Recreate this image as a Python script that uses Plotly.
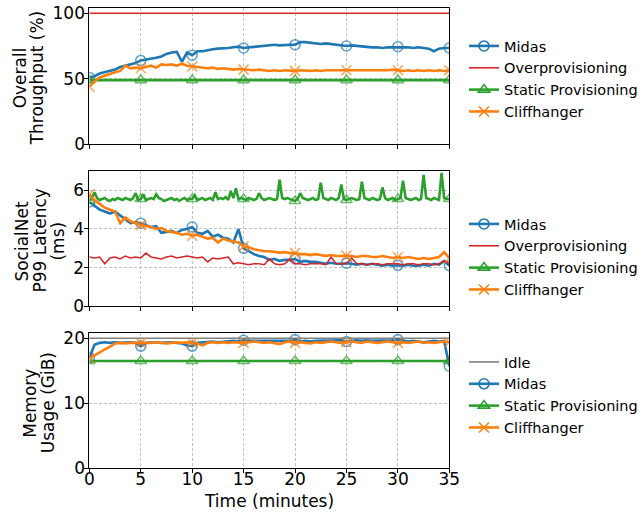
import numpy as np
import plotly.graph_objects as go

# ---------------- data ----------------
time_min = np.arange(0, 35.01, 0.5)    # minutes, 71 samples
time_fine = np.arange(0, 35.01, 0.25)  # minutes, 141 samples (spiky series)

# Panel 1: Overall throughput (%)
thr_midas = [51, 52, 54, 55, 56, 57, 59, 60, 61, 62,
             64, 64.5, 65.5, 66, 67, 69, 70, 70.5, 63, 70,
             68, 71, 71, 72, 72.5, 73, 73, 73.5, 74, 74.5,
             73.5, 74, 74.5, 75, 75, 75.5, 76, 75.5, 76, 76,
             76, 78, 78, 77.5, 77, 76.5, 77, 76.5, 76, 75.5,
             75, 75.5, 75, 74.5, 74.5, 74, 74, 73.5, 74, 74,
             74.5, 74, 74, 73.5, 74, 73.5, 73, 71, 73, 73.5,
             73.5]
thr_overprov = [100] * 71
thr_static = [49] * 71
thr_cliff = [44, 48, 51, 52.5, 54, 55, 56, 60, 58, 58.5,
             58, 59, 60, 58.5, 61, 60.5, 61, 60, 61.5, 60,
             59.5, 59, 58.5, 58, 58.5, 57.5, 58, 57.5, 57, 57.5,
             57, 57, 56.5, 57, 56.5, 56, 56.5, 56, 56.5, 56,
             56, 56.5, 56, 56, 56.5, 56, 56.5, 56.5, 56, 56.5,
             56.5, 56, 56.5, 56, 56, 56.5, 56, 56.5, 56.5, 57,
             56.5, 56, 56.5, 56, 56.5, 56, 56.5, 56, 56.5, 56,
             56.5]

# Panel 2: SocialNet P99 latency (ms)
lat_midas = [5.4, 5.2, 5.0, 4.9, 4.8, 4.9, 4.7, 4.5, 4.3, 4.35,
             4.3, 4.2, 4.1, 4.15, 3.8, 3.85, 3.9, 3.8, 3.95, 4.0,
             4.1, 3.8, 3.75, 3.9, 3.6, 3.7, 3.55, 3.5, 3.3, 4.0,
             3.0, 2.85, 2.7, 2.6, 2.55, 2.4, 2.45, 2.35, 2.4, 2.4,
             2.45, 2.3, 2.35, 2.3, 2.3, 2.25, 2.2, 2.25, 2.2, 2.2,
             2.23, 2.2, 2.15, 2.2, 2.15, 2.2, 2.15, 2.1, 2.15, 2.1,
             2.12, 2.1, 2.15, 2.1, 2.1, 2.15, 2.1, 2.2, 2.15, 2.35,
             2.1]
lat_overprov = [2.55, 2.5, 2.55, 2.2, 2.5, 2.55, 2.45, 2.6, 2.5, 2.55,
                2.5, 2.75, 2.55, 2.5, 2.45, 2.55, 2.6, 2.5, 2.55, 2.6,
                2.55, 2.5, 2.55, 2.3, 2.5, 2.45, 2.5, 2.55, 2.2, 2.25,
                2.2, 2.15, 2.2, 2.2, 2.15, 2.45, 2.2, 2.15, 2.2, 2.45,
                2.2, 2.2, 2.15, 2.2, 2.2, 2.2, 2.15, 2.55, 2.2, 2.2,
                2.2, 2.5, 2.2, 2.2, 2.15, 2.2, 2.2, 2.15, 2.2, 2.2,
                2.2, 2.15, 2.2, 2.2, 2.15, 2.2, 2.2, 2.15, 2.2, 2.35,
                2.2]
lat_static = [5.45, 5.6, 5.9, 5.6, 5.5, 5.55, 5.6, 5.5, 5.45, 5.55, 5.5, 5.6, 5.55, 5.5, 5.6, 5.55, 5.5, 5.6, 5.85, 5.5,
              5.55, 5.8, 5.5, 5.55, 5.6, 5.55, 5.8, 5.6, 5.55, 5.45, 5.5, 5.55, 5.6, 5.5, 5.55, 5.45, 5.55, 5.6, 5.5, 5.55,
              5.55, 5.75, 5.5, 5.55, 5.6, 5.5, 5.55, 5.6, 5.5, 5.9, 5.55, 5.6, 5.55, 5.65, 5.5, 5.95, 5.6, 6.1, 5.55, 5.6,
              5.55, 5.5, 5.6, 5.55, 5.5, 5.55, 5.85, 5.6, 5.5, 5.55, 5.6, 5.55, 5.5, 5.55, 6.55, 5.6, 5.55, 5.6, 5.55, 5.5,
              5.45, 5.55, 5.85, 5.6, 5.55, 5.5, 5.55, 5.6, 5.5, 5.55, 6.4, 5.6, 5.55, 5.5, 5.6, 5.55, 5.5, 5.6, 6.3, 5.55,
              5.5, 5.55, 5.6, 5.55, 5.5, 5.55, 6.45, 5.6, 5.55, 5.5, 5.6, 5.55, 5.5, 5.55, 6.15, 5.6, 5.5, 5.55, 5.6, 5.5,
              5.55, 5.6, 6.5, 5.6, 5.55, 5.5, 5.55, 5.6, 5.5, 5.55, 6.8, 5.6, 5.55, 5.5, 5.6, 5.55, 5.5, 6.9, 5.6, 5.55,
              5.55]
lat_cliff = [5.8, 5.5, 5.3, 5.1, 5.0, 4.9, 4.3, 4.6, 4.4, 4.3,
             4.2, 4.15, 4.1, 4.0, 4.05, 3.9, 3.85, 3.8, 3.7, 3.75,
             3.65, 3.7, 3.6, 3.5, 3.55, 3.3, 3.5, 3.4, 3.35, 3.3,
             3.1, 3.05, 2.95, 2.9, 2.85, 2.85, 2.8, 2.78, 2.8, 2.75,
             2.75, 2.7, 2.7, 2.65, 2.7, 2.65, 2.6, 2.65, 2.6, 2.6,
             2.62, 2.6, 2.55, 2.6, 2.6, 2.55, 2.55, 2.6, 2.55, 2.5,
             2.55, 2.5, 2.55, 2.5, 2.45, 2.5, 2.45, 2.5, 2.55, 2.8,
             2.5]

# Panel 3: Memory usage (GiB)
mem_idle = [20] * 71
mem_midas = [17.0, 19.0, 19.3, 19.4, 19.3, 19.4, 19.3, 19.4, 19.4, 19.3,
             18.8, 19.3, 19.4, 19.4, 19.3, 19.4, 19.4, 19.3, 19.2, 18.9,
             18.8, 19.3, 19.4, 19.5, 19.5, 19.4, 19.5, 19.5, 19.6, 19.5,
             19.7, 19.6, 19.6, 19.7, 19.6, 19.7, 19.6, 19.6, 19.7, 19.6,
             19.8, 19.5, 19.6, 19.5, 19.6, 19.6, 19.7, 19.6, 19.6, 19.7,
             19.5, 19.6, 19.7, 19.6, 19.7, 19.6, 19.6, 19.7, 19.6, 19.7,
             19.8, 19.6, 19.5, 19.6, 19.5, 19.4, 19.5, 19.6, 19.5, 19.6,
             15.7]
mem_static = [16.5] * 71
mem_cliff = [16.9, 17.4, 17.9, 18.3, 18.7, 19.2, 19.3, 19.2, 19.3, 19.3,
             19.3, 19.2, 19.3, 19.4, 19.3, 19.2, 19.3, 19.4, 19.3, 19.4,
             19.3, 19.2, 18.9, 19.3, 19.4, 19.3, 19.4, 19.3, 19.4, 19.3,
             19.3, 19.4, 19.5, 19.4, 19.3, 19.4, 19.2, 19.1, 19.4, 19.5,
             19.3, 19.4, 19.3, 19.2, 19.4, 19.3, 19.4, 19.5, 19.4, 19.3,
             19.4, 19.5, 19.4, 19.3, 19.5, 19.4, 19.3, 19.4, 19.5, 19.4,
             19.3, 19.4, 19.3, 19.4, 19.5, 19.3, 19.4, 19.3, 19.4, 19.5,
             19.4]

x_ticks = [0, 5, 10, 15, 20, 25, 30, 35]

# ---------------- style ----------------
BLUE, ORANGE, GREEN, RED, GRAY = "#1f77b4", "#ff7f0e", "#2ca02c", "#d62728", "#808080"
FONT = "DejaVu Sans"
W, H = 643, 514
MSIZE = 10


def msizes(xs, size):
    return [size if abs(t / 5 - round(t / 5)) < 1e-9 else 0 for t in xs]


def add_series(fig, y, name, color, symbol, width, xa, ya, legend, xs=time_min):
    line = dict(color=color, width=width)
    if symbol is None:
        fig.add_trace(go.Scatter(x=xs, y=y, name=name, mode="lines", line=line,
                                 xaxis=xa, yaxis=ya, legend=legend))
        return
    marker = dict(symbol=symbol, size=msizes(xs, MSIZE), color=color, line=dict(color=color, width=1.6))
    fig.add_trace(go.Scatter(x=xs, y=y, name=name, mode="lines+markers", line=line,
                             marker=marker, xaxis=xa, yaxis=ya, legend=legend, showlegend=False,
                             legendgroup=legend + name))
    # legend key only (no data points)
    fig.add_trace(go.Scatter(x=[None], y=[None], name=name, mode="lines+markers", line=line,
                             marker=dict(symbol=symbol, size=MSIZE, color=color,
                                         line=dict(color=color, width=1.6)),
                             xaxis=xa, yaxis=ya, legend=legend, legendgroup=legend + name))


fig = go.Figure()
add_series(fig, thr_midas, "Midas", BLUE, "circle-open", 2.6, "x", "y", "legend")
add_series(fig, thr_overprov, "Overprovisioning", RED, None, 1.6, "x", "y", "legend")
add_series(fig, thr_static, "Static Provisioning", GREEN, "triangle-up-open", 2.6, "x", "y", "legend")
add_series(fig, thr_cliff, "Cliffhanger", ORANGE, "x-thin-open", 2.6, "x", "y", "legend")

add_series(fig, lat_midas, "Midas", BLUE, "circle-open", 2.6, "x2", "y2", "legend2")
add_series(fig, lat_overprov, "Overprovisioning", RED, None, 1.6, "x2", "y2", "legend2")
add_series(fig, lat_static, "Static Provisioning", GREEN, "triangle-up-open", 2.6, "x2", "y2", "legend2",
           xs=time_fine)
add_series(fig, lat_cliff, "Cliffhanger", ORANGE, "x-thin-open", 2.6, "x2", "y2", "legend2")

add_series(fig, mem_idle, "Idle", GRAY, None, 1.6, "x3", "y3", "legend3")
add_series(fig, mem_midas, "Midas", BLUE, "circle-open", 2.6, "x3", "y3", "legend3")
add_series(fig, mem_static, "Static Provisioning", GREEN, "triangle-up-open", 2.6, "x3", "y3", "legend3")
add_series(fig, mem_cliff, "Cliffhanger", ORANGE, "x-thin-open", 2.6, "x3", "y3", "legend3")

x0, x1 = 89.5 / W, 450 / W


def ydom(top, bot):
    return [1 - bot / H, 1 - top / H]


FS = 17
axis_common = dict(showline=True, linecolor="black", linewidth=1, mirror=True,
                   ticks="outside", ticklen=4, tickwidth=1, tickcolor="black",
                   showgrid=True, gridcolor="#c0c0c0", griddash="3px,2px", gridwidth=0.8,
                   zeroline=False, automargin=False,
                   tickfont=dict(family=FONT, size=FS, color="black"))

xcommon = dict(axis_common, range=[0, 35], tickvals=x_ticks, domain=[x0, x1])
P1, P2, P3 = (7.5, 144.3), (171, 306.3), (333.3, 468.3)
fig.update_layout(
    xaxis=dict(xcommon, anchor="y", showticklabels=False),
    xaxis2=dict(xcommon, anchor="y2", showticklabels=False),
    xaxis3=dict(xcommon, anchor="y3", ticklabelstandoff=-9),
    yaxis=dict(axis_common, anchor="x", domain=ydom(*P1), range=[0, 104.4], tickvals=[0, 50, 100],
               ticklabelstandoff=-4),
    yaxis2=dict(axis_common, anchor="x2", domain=ydom(*P2), range=[0, 7], tickvals=[0, 2, 4, 6],
                ticklabelstandoff=-3),
    yaxis3=dict(axis_common, anchor="x3", domain=ydom(*P3), range=[0, 20.77], tickvals=[0, 10, 20],
                ticklabelstandoff=-4),
)

legend_common = dict(font=dict(family=FONT, size=14.5, color="black"), bgcolor="rgba(0,0,0,0)",
                     itemsizing="trace", traceorder="grouped", tracegroupgap=0,
                     xanchor="left", yanchor="top", x=465 / W)
fig.update_layout(
    legend=dict(legend_common, y=1 - 30 / H),
    legend2=dict(legend_common, y=1 - 208 / H),
    legend3=dict(legend_common, y=1 - 346 / H),
)

title_font = dict(family=FONT, size=FS, color="black")
ylabel_lines = [("Overall", 19.5, P1), ("Throughput (%)", 36.5, P1),
                ("SocialNet", 22, P2), ("P99 Latency", 40, P2), ("(ms)", 58, P2),
                ("Memory", 30, P3), ("Usage (GiB)", 47.5, P3)]
for txt, cx, (top, bot) in ylabel_lines:
    fig.add_annotation(text=txt, x=cx / W, y=1 - ((top + bot) / 2 + 2) / H, xref="paper", yref="paper",
                       textangle=-90, showarrow=False, font=title_font,
                       xanchor="center", yanchor="middle")
fig.add_annotation(text="Time (minutes)", x=(89.5 + 450) / 2 / W, y=1 - 501 / H,
                   xref="paper", yref="paper", showarrow=False, font=title_font,
                   xanchor="center", yanchor="middle")

fig.update_layout(width=W, height=H, margin=dict(l=0, r=0, t=0, b=0),
                  paper_bgcolor="white", plot_bgcolor="white",
                  font=dict(family=FONT, color="black"))

fig.write_html("out.html", config={"displayModeBar": False},
               post_script="document.body.style.margin='0';document.body.style.overflow='hidden';")
